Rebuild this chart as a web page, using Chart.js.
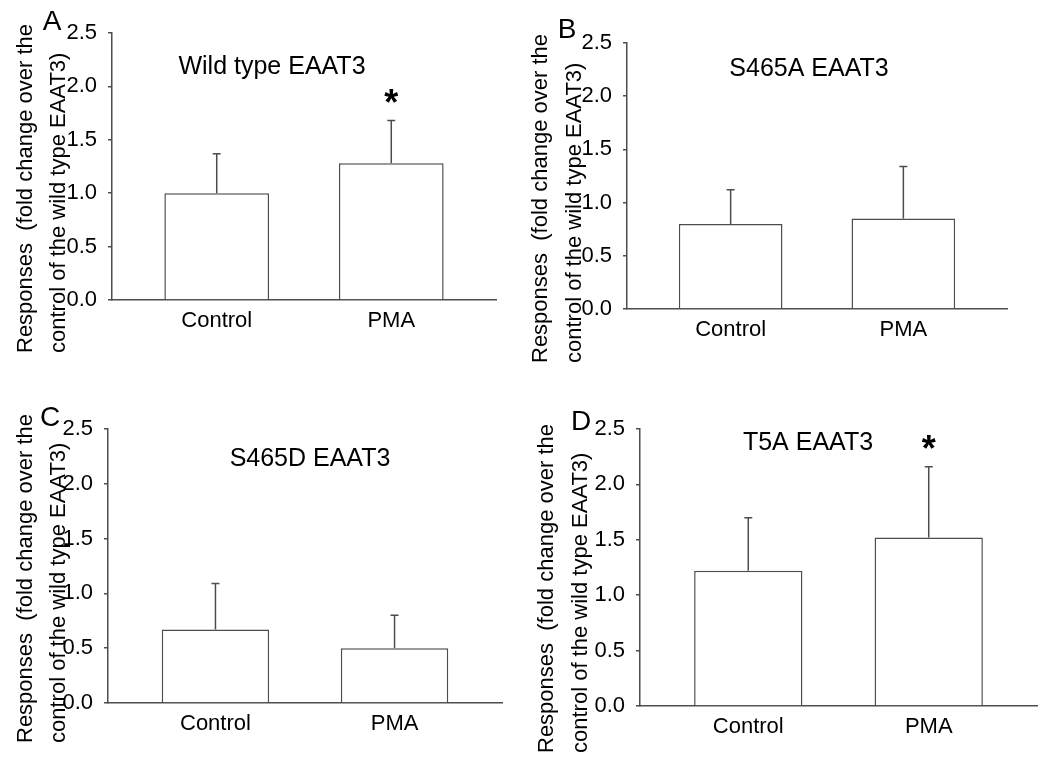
<!DOCTYPE html>
<html>
<head>
<meta charset="utf-8">
<title>EAAT3 responses to PMA</title>
<script src="https://cdn.jsdelivr.net/npm/chart.js@4.4.1/dist/chart.umd.min.js"></script>
<style>
  html, body { margin: 0; padding: 0; background: #fff; }
  #fig { position: relative; width: 1050px; height: 764px; overflow: hidden; }
  #fig canvas { position: absolute; }
</style>
</head>
<body>
<div id="fig">
  <canvas id="panelA" width="520" height="382" style="left:0;top:0"></canvas>
  <canvas id="panelB" width="530" height="382" style="left:520px;top:0"></canvas>
  <canvas id="panelC" width="520" height="382" style="left:0;top:382px"></canvas>
  <canvas id="panelD" width="530" height="382" style="left:520px;top:382px"></canvas>
</div>
<script>
// --- data ---
const categories = ['Control', 'PMA'];
const yTickValues = [0, 0.5, 1.0, 1.5, 2.0, 2.5];
const yTickLabels = ['0.0', '0.5', '1.0', '1.5', '2.0', '2.5'];

const wildTypeMean = [1.00, 1.28];
const wildTypeErr  = [0.37, 0.40];
const wildTypeStar = [false, true];

const s465aMean = [0.80, 0.85];
const s465aErr  = [0.32, 0.49];
const s465aStar = [false, false];

const s465dMean = [0.67, 0.50];
const s465dErr  = [0.42, 0.30];
const s465dStar = [false, false];

const t5aMean = [1.22, 1.52];
const t5aErr  = [0.48, 0.64];
const t5aStar = [false, true];

const yTitleLines = ['Responses  (fold change over the', 'control of the wild type EAAT3)'];

const FONT = '"Liberation Sans", Arial, Helvetica, sans-serif';
const INK = '#000';
const LINE = '#4d4d4d';

// error bars, stars and the free text of each panel
const decor = {
  id: 'decor',
  afterDatasetsDraw(chart, args, o) {
    const ctx = chart.ctx;
    const ys = chart.scales.y;
    const meta = chart.getDatasetMeta(0);
    const means = chart.data.datasets[0].data.map(d => d.y);
    ctx.save();
    ctx.strokeStyle = LINE;
    ctx.lineWidth = 1.5;
    meta.data.forEach((bar, i) => {
      const top = ys.getPixelForValue(means[i] + o.errs[i]);
      ctx.beginPath();
      ctx.moveTo(bar.x, bar.y);
      ctx.lineTo(bar.x, top);
      ctx.moveTo(bar.x - 4, top);
      ctx.lineTo(bar.x + 4, top);
      ctx.stroke();
      if (o.stars[i]) {
        ctx.fillStyle = INK;
        ctx.font = 'bold 36px ' + FONT;
        ctx.textAlign = 'center';
        ctx.textBaseline = 'alphabetic';
        ctx.fillText('*', bar.x, top - 26 + 0.575 * 36);
      }
    });

    ctx.fillStyle = INK;
    ctx.textAlign = 'center';
    ctx.textBaseline = 'middle';
    ctx.font = '25px ' + FONT;
    ctx.fillText(o.title, o.titleXY[0], o.titleXY[1]);
    ctx.font = '28px ' + FONT;
    ctx.fillText(o.letter, o.letterXY[0], o.letterXY[1]);

    ctx.font = '22px ' + FONT;
    ctx.textAlign = 'left';
    ctx.textBaseline = 'alphabetic';
    yTitleLines.forEach((line, k) => {
      ctx.save();
      ctx.translate(o.yTitleX[k], o.yTitleBottom);
      ctx.rotate(-Math.PI / 2);
      ctx.fillText(line, 0, 0);
      ctx.restore();
    });
    ctx.restore();
  }
};

function makePanel(p) {
  new Chart(document.getElementById(p.id), {
    type: 'bar',
    data: {
      datasets: [{
        data: p.means.map((v, i) => ({ x: i, y: v })),
        backgroundColor: '#fff',
        borderColor: LINE,
        borderWidth: 1.5,
        barPercentage: 1,
        categoryPercentage: 0.6
      }]
    },
    options: {
      responsive: false,
      animation: false,
      events: [],
      layout: { padding: { left: 0, top: p.box.top, right: p.box.right, bottom: 0 } },
      plugins: {
        legend: { display: false },
        tooltip: { enabled: false },
        decor: {
          errs: p.errs, stars: p.stars, title: p.title, titleXY: p.titleXY,
          letter: p.letter, letterXY: p.letterXY,
          yTitleX: p.yTitleX, yTitleBottom: p.yTitleBottom
        }
      },
      scales: {
        x: {
          type: 'linear',
          min: -0.6,
          max: 1.6,
          offset: false,
          afterFit: s => { s.height = p.box.xh; },
          afterBuildTicks: s => { s.ticks = categories.map((c, i) => ({ value: i })); },
          grid: { display: false, drawTicks: false },
          border: { display: true, color: LINE, width: 1.5 },
          ticks: {
            padding: 8,
            color: INK,
            font: { family: FONT, size: 22 },
            callback: v => categories[v]
          }
        },
        y: {
          min: 0,
          max: 2.5,
          afterFit: s => { s.width = p.box.left; },
          afterBuildTicks: s => { s.ticks = yTickValues.map(v => ({ value: v })); },
          grid: { drawOnChartArea: false, drawTicks: true, tickLength: 4, color: LINE, lineWidth: 1.5 },
          border: { display: true, color: LINE, width: 1.5 },
          ticks: {
            padding: 11,
            color: INK,
            font: { family: FONT, size: 22 },
            callback: v => yTickLabels[yTickValues.indexOf(v)]
          }
        }
      }
    },
    plugins: [decor]
  });
}

makePanel({
  id: 'panelA', means: wildTypeMean, errs: wildTypeErr, stars: wildTypeStar,
  title: 'Wild type EAAT3', titleXY: [272, 67], letter: 'A', letterXY: [52, 22],
  yTitleX: [32, 65], yTitleBottom: 353,
  box: { left: 112, top: 33, right: 24, xh: 82 }
});
makePanel({
  id: 'panelB', means: s465aMean, errs: s465aErr, stars: s465aStar,
  title: 'S465A EAAT3', titleXY: [289, 69], letter: 'B', letterXY: [47, 30],
  yTitleX: [27, 61], yTitleBottom: 363,
  box: { left: 107, top: 43, right: 43, xh: 73 }
});
makePanel({
  id: 'panelC', means: s465dMean, errs: s465dErr, stars: s465dStar,
  title: 'S465D EAAT3', titleXY: [310, 77], letter: 'C', letterXY: [50, 36],
  yTitleX: [32, 65], yTitleBottom: 361,
  box: { left: 108, top: 47, right: 18, xh: 61 }
});
makePanel({
  id: 'panelD', means: t5aMean, errs: t5aErr, stars: t5aStar,
  title: 'T5A EAAT3', titleXY: [288, 61], letter: 'D', letterXY: [61, 40],
  yTitleX: [33, 67], yTitleBottom: 371,
  box: { left: 120, top: 47, right: 13, xh: 58 }
});
</script>
</body>
</html>
